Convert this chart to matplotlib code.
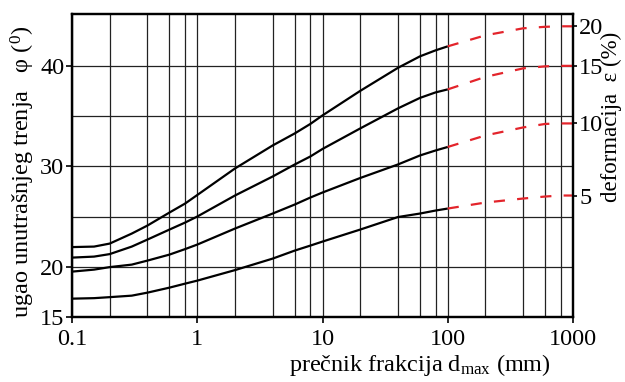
import matplotlib
matplotlib.use("Agg")
import matplotlib.pyplot as plt
from matplotlib.ticker import FixedLocator, NullFormatter

plt.rcParams['font.family'] = ['Liberation Serif', 'DejaVu Serif']
plt.rcParams['mathtext.fontset'] = 'custom'
plt.rcParams['mathtext.rm'] = 'Liberation Serif'
plt.rcParams['mathtext.it'] = 'Liberation Serif:italic'

# --- data ---
d_measured = [0.1, 0.15, 0.2, 0.3, 0.4, 0.6, 0.8, 1, 2, 4, 6, 8, 10, 20, 40, 60, 80, 100]
phi_eps20 = [21.95, 22.0, 22.3, 23.3, 24.1, 25.4, 26.3, 27.15, 29.8, 32.1, 33.3, 34.25, 35.1, 37.55, 39.85, 41.0, 41.6, 42.0]
phi_eps15 = [20.9, 21.0, 21.25, 22.0, 22.7, 23.7, 24.4, 25.0, 27.1, 29.0, 30.2, 31.0, 31.75, 33.8, 35.8, 36.85, 37.4, 37.7]
phi_eps10 = [19.5, 19.7, 19.95, 20.2, 20.6, 21.2, 21.75, 22.2, 23.8, 25.3, 26.2, 26.9, 27.4, 28.85, 30.2, 31.1, 31.6, 31.95]
phi_eps5 = [16.8, 16.85, 16.95, 17.1, 17.4, 17.9, 18.3, 18.6, 19.65, 20.8, 21.6, 22.1, 22.5, 23.7, 24.95, 25.3, 25.6, 25.8]

d_extrap = [100, 200, 400, 600, 800, 1000]
phi_eps20_ext = [42.0, 43.1, 43.8, 43.95, 44.0, 44.0]
phi_eps15_ext = [37.7, 38.95, 39.8, 40.0, 40.05, 40.05]
phi_eps10_ext = [31.95, 33.1, 33.9, 34.25, 34.3, 34.3]
phi_eps5_ext = [25.8, 26.4, 26.8, 27.0, 27.1, 27.1]

left_ticks = [15, 20, 30, 40]
left_minor = [25, 35]
x_major = [0.1, 1, 10, 100, 1000]
x_major_labels = ['0.1', '1', '10', '100', '1000']
x_minor = [0.2, 0.4, 0.6, 0.8, 2, 4, 6, 8, 20, 40, 60, 80, 200, 400, 600, 800]
eps_labels = ['5', '10', '15', '20']
eps_positions = [27.1, 34.3, 40.0, 44.0]

fig = plt.figure(figsize=(6.25, 3.82), dpi=100)
ax = fig.add_axes([0.1152, 0.171, 0.8016, 0.7916])

ax.set_xscale('log')
ax.set_xlim(0.1, 1000)
ax.set_ylim(15, 45.2)

for ys in (phi_eps20, phi_eps15, phi_eps10, phi_eps5):
    ax.plot(d_measured, ys, color='black', lw=1.6, zorder=3,
            solid_capstyle='butt', solid_joinstyle='round')
for ys in (phi_eps20_ext, phi_eps15_ext, phi_eps10_ext, phi_eps5_ext):
    ax.plot(d_extrap, ys, color='#e3242b', lw=1.6, dashes=(5, 5.5), zorder=3)

ax.xaxis.set_major_locator(FixedLocator(x_major))
ax.xaxis.set_minor_locator(FixedLocator(x_minor))
ax.set_xticklabels(x_major_labels)
ax.xaxis.set_minor_formatter(NullFormatter())
ax.yaxis.set_major_locator(FixedLocator(left_ticks))
ax.yaxis.set_minor_locator(FixedLocator(left_minor))
ax.yaxis.set_minor_formatter(NullFormatter())

ax.grid(True, which='both', color='#222222', lw=0.9, zorder=1)
ax.tick_params(which='major', direction='out', length=4, width=1.2, labelsize=17.5, pad=3)
ax.tick_params(which='minor', length=0)
ax.tick_params(axis='x', pad=5)
ax.tick_params(axis='y', pad=1.5)
for s in ax.spines.values():
    s.set_linewidth(1.6)

ax2 = ax.twinx()
ax2.set_ylim(ax.get_ylim())
ax2.set_yticks(eps_positions)
ax2.set_yticklabels(eps_labels)
ax2.tick_params(direction='out', length=3, width=1.2, labelsize=17.5, pad=1.5)
for s in ax2.spines.values():
    s.set_linewidth(1.6)

fig.text(0.036, 0.55, 'ugao unutrašnjeg trenja   φ ($^{0}$)', rotation=90,
         ha='center', va='center', fontsize=17.5)
fig.text(0.672, 0.045, r'prečnik frakcija d$_{\mathrm{max}}$ (mm)',
         ha='center', va='center', fontsize=17.5)
fig.text(0.979, 0.693, 'deformacija  ε (%)', rotation=90,
         ha='center', va='center', fontsize=16.5)

fig.savefig('out.png', dpi=100)
